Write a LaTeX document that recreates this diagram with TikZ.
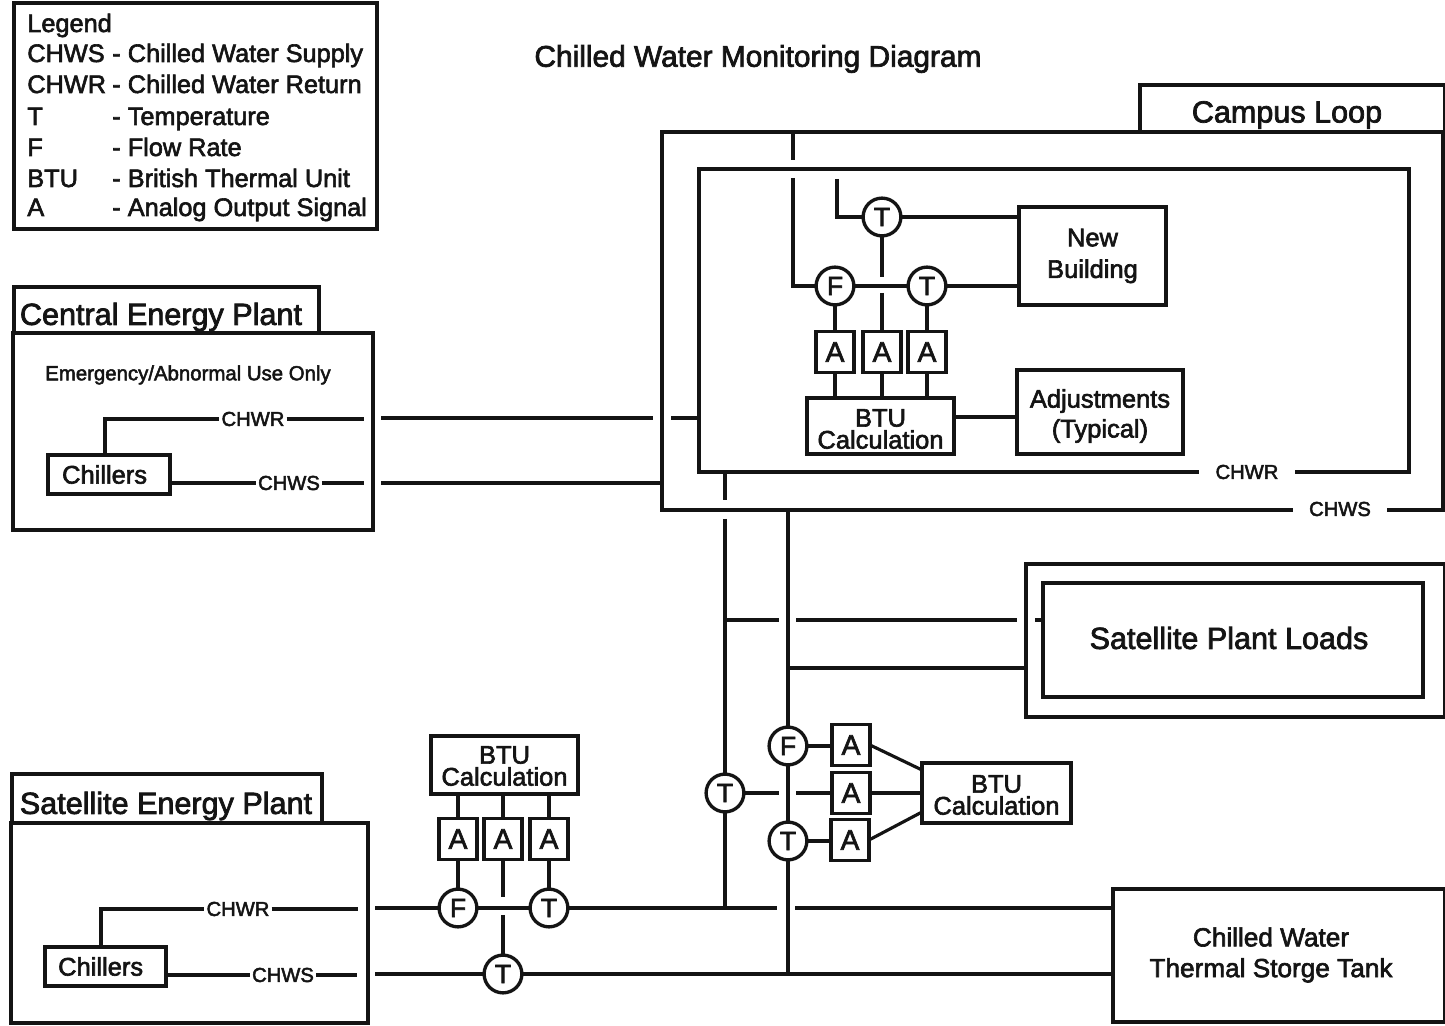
\documentclass[tikz,border=0pt]{standalone}
\usepackage{fontspec}
\setmainfont{Liberation Sans}[FakeBold=2.4]
\usetikzlibrary{positioning}
\tikzset{
  wire/.style     = {line width=1.8pt, draw=inkblack},
  box/.style      = {rectangle, draw=inkblack, line width=1.9pt, inner sep=0pt, outer sep=0pt,
                     align=center, text=inkblack},
  boxwh/.style 2 args = {minimum width=#1*0.02cm, minimum height=#2*0.02cm},
  sensor/.style   = {circle, draw=inkblack, line width=1.9pt, fill=white, inner sep=0pt, outer sep=0pt,
                     minimum size=21.5pt, font=\fontsize{15}{15}\selectfont, text=inkblack},
  analog/.style   = {box, boxwh={38}{41}, fill=white, font=\fontsize{16}{16}\selectfont},
  btutext/.style  = {inner sep=0pt, text=inkblack, align=center, font=\fontsize{14.5}{12.5}\selectfont},
  bigtext/.style  = {font=\fontsize{17.4}{18}\selectfont},
  midtext/.style  = {font=\fontsize{14.5}{18}\selectfont},
  linelabel/.style= {inner xsep=1pt, inner ysep=1pt, fill=white, text=inkblack,
                     font=\fontsize{11.5}{12}\selectfont},
  legendtext/.style={anchor=base west, inner sep=0pt, text=inkblack, font=\fontsize{14.4}{16}\selectfont},
}
\definecolor{inkblack}{HTML}{141414}

\begin{document}
\begin{tikzpicture}[x=0.02cm,y=-0.02cm]
  \useasboundingbox (0,0) rectangle (1445,1026);

  % legend
  \node[box, boxwh={363}{226}] (legend) at (195.5,116) {};
  \node[legendtext] (legendTitle) at (27,32) {Legend};
  \foreach \row/\ypos/\abbr/\full in {1/62/CHWS/Chilled Water Supply, 2/93/CHWR/Chilled Water Return,
      3/125/T/Temperature, 4/156/F/Flow Rate, 5/187/BTU/British Thermal Unit, 6/216/A/Analog Output Signal}{
    \node[legendtext] (key\row) at (27,\ypos) {\abbr};
    \node[legendtext] (val\row) at (112,\ypos) {- \full};
  }
  \node[inner sep=0pt, text=inkblack, font=\fontsize{17}{18}\selectfont] (title) at (758,59) {Chilled Water Monitoring Diagram};

  % central energy plant
  \node[box, boxwh={305}{46}, bigtext] (cpTab) at (166.5,310) {};
  \node[inner sep=0pt, text=inkblack, bigtext] (cpName) at (161,317) {Central Energy Plant};
  \node[box, boxwh={360}{197}] (cp) at (193,431.5) {};
  \node[inner sep=0pt, text=inkblack, font=\fontsize{11.6}{14}\selectfont] (cpNote) at (188,375) {Emergency/Abnormal Use Only};
  \node[box, boxwh={122}{39}, midtext] (cpChillers) at (109,474.5) {Chillers\hspace{5pt}};
  \node[linelabel] (cpChwr) at (253,419) {CHWR};
  \node[linelabel] (cpChws) at (289,483) {CHWS};
  \coordinate (cpRiser) at (105,455);
  \coordinate (cpRout) at (364,419);
  \coordinate (cpSout) at (364,483);
  \coordinate (mainRin) at (381,418);
  \coordinate (mainSin) at (381,483);

  % campus loop
  \node[box, boxwh={305}{47}] (campusTab) at (1292.5,108.5) {};
  \node[inner sep=0pt, text=inkblack, bigtext] (campusName) at (1287,115) {Campus Loop};
  \node[box, boxwh={781}{378}] (campus) at (1052.5,321) {};
  \node[box, boxwh={710}{303}] (loop) at (1054,320.5) {};
  \node[linelabel, inner xsep=9.5pt] (loopChwr) at (1247,472) {CHWR};
  \node[linelabel, inner xsep=9pt] (campusChws) at (1340,509) {CHWS};
  \coordinate (mainRend) at (653,418);
  \coordinate (loopRin) at (671,418);
  \coordinate (crossTop) at (793,132);
  \coordinate (crossGapA) at (793,160);
  \coordinate (crossGapB) at (793,178);
  \coordinate (returnTop) at (837,179);

  \node[box, boxwh={147}{98}, midtext] (building) at (1092.5,256) {New\\[0pt]Building};
  \node[sensor] (bldTtop) at (882,217) {T};
  \node[sensor] (bldF) at (835,286) {F};
  \node[sensor] (bldT) at (927,286) {T};
  \node[analog] (bldAf) at (835,352) {A};
  \node[analog] (bldAm) at (882,352) {A};
  \node[analog] (bldAt) at (927,352) {A};
  \node[box, boxwh={147}{56}] (bldBtu) at (880.5,426) {};
  \node[btutext] (bldBtuText) at (880.5,429) {BTU\\Calculation};
  \node[box, boxwh={166}{84}] (adjust) at (1100,412) {};
  \node[inner sep=0pt, text=inkblack, align=center, midtext] (adjustText) at (1100,416) {Adjustments\\[-1pt](Typical)};
  \coordinate (bldGapA) at (882,277);
  \coordinate (bldGapB) at (882,293);
  \coordinate (adjustFeed) at (954,417);

  \draw[wire] (crossTop) -- (crossGapA);
  \draw[wire] (crossGapB) |- (bldF.west);
  \draw[wire] (returnTop) |- (bldTtop.west);
  \draw[wire] (bldTtop.east) -- (bldTtop.east -| building.west);
  \draw[wire] (bldF.east) -- (bldT.west);
  \draw[wire] (bldT.east) -- (bldT.east -| building.west);
  \draw[wire] (bldTtop.south) -- (bldGapA);
  \draw[wire] (bldGapB) -- (bldAm.north);
  \draw[wire] (bldF.south) -- (bldAf.north);
  \draw[wire] (bldT.south) -- (bldAt.north);
  \foreach \a in {bldAf,bldAm,bldAt}{
    \draw[wire] (\a.south) -- (\a.south |- bldBtu.north);
  }
  \draw[wire] (adjustFeed) -- (adjustFeed -| adjust.west);

  % mains from central plant
  \draw[wire] (cpRiser) |- (cpChwr.west);
  \draw[wire] (cpChwr.east) -- (cpRout);
  \draw[wire] (cpChillers.east |- cpChws.west) -- (cpChws.west);
  \draw[wire] (cpChws.east) -- (cpSout);
  \draw[wire] (mainRin) -- (mainRend);
  \draw[wire] (loopRin) -- (loopRin -| loop.west);
  \draw[wire] (mainSin) -- (mainSin -| campus.west);

  % satellite plant loads
  \node[box, boxwh={419}{153}] (loadsOut) at (1235.5,640.5) {};
  \node[box, boxwh={380}{114}, bigtext] (loads) at (1233,640) {};
  \node[inner sep=0pt, text=inkblack, bigtext] (loadsName) at (1229,638) {Satellite Plant Loads};

  % risers
  \coordinate (riserRgapA) at (725,500);
  \coordinate (riserRgapB) at (725,519);
  \coordinate (loopBottom) at (725,472);
  \coordinate (riserS) at (788,510);
  \coordinate (loadRa) at (725,620);
  \coordinate (loadRb) at (779,620);
  \coordinate (loadRc) at (796,620);
  \coordinate (loadRd) at (1017,620);
  \coordinate (loadRe) at (1035,620);
  \coordinate (loadRf) at (1043,620);
  \coordinate (loadSa) at (788,668);

  \node[sensor] (riseT) at (725,793) {T};
  \node[sensor] (riseF) at (788,746) {F};
  \node[sensor] (riseTb) at (788,841) {T};
  \node[analog] (riseAa) at (851,745) {A};
  \node[analog] (riseAb) at (851,793) {A};
  \node[analog] (riseAc) at (850,840) {A};
  \node[box, boxwh={149}{60}] (riseBtu) at (996.5,793) {};
  \node[btutext] (riseBtuText) at (996.5,795) {BTU\\Calculation};
  \coordinate (riseGapA) at (779,793);
  \coordinate (riseGapB) at (796,793);

  \draw[wire] (loopBottom) -- (riserRgapA);
  \draw[wire] (riserRgapB) -- (riseT.north);
  \draw[wire] (riserS) -- (riseF.north);
  \draw[wire] (riseF.south) -- (riseTb.north);
  \draw[wire] (loadRa) -- (loadRb);
  \draw[wire] (loadRc) -- (loadRd);
  \draw[wire] (loadRe) -- (loadRf);
  \draw[wire] (loadSa) -- (loadSa -| loadsOut.west);
  \draw[wire] (riseF.east) -- (riseAa.west |- riseF.east);
  \draw[wire] (riseT.east) -- (riseGapA);
  \draw[wire] (riseGapB) -- (riseAb.west);
  \draw[wire] (riseTb.east) -- (riseAc.west |- riseTb.east);
  \draw[wire] (riseAa.east) -- (riseBtu.west |- 0,770);
  \draw[wire] (riseAb.east) -- (riseBtu.west);
  \draw[wire] (riseAc.east) -- (riseBtu.west |- 0,812);

  % satellite energy plant
  \node[box, boxwh={310}{49}] (spTab) at (167,798.5) {};
  \node[inner sep=0pt, text=inkblack, bigtext] (spName) at (166,806) {Satellite Energy Plant};
  \node[box, boxwh={357}{200}] (sp) at (189.5,923) {};
  \node[box, boxwh={121}{39}, midtext] (spChillers) at (105.5,966.5) {Chillers\hspace{5.5pt}};
  \node[linelabel] (spChwr) at (238,909) {CHWR};
  \node[linelabel] (spChws) at (283,975) {CHWS};
  \coordinate (spRiser) at (101,947);
  \coordinate (spRout) at (358,909);
  \coordinate (spSout) at (357,975);
  \coordinate (satRin) at (375,908);
  \coordinate (satSin) at (375,974);

  \node[box, boxwh={147}{58}] (spBtu) at (504.5,765) {};
  \node[btutext] (spBtuText) at (504.5,766) {BTU\\Calculation};
  \node[analog] (spAf) at (458,839) {A};
  \node[analog] (spAm) at (503,839) {A};
  \node[analog] (spAt) at (549,839) {A};
  \node[sensor] (spF) at (458,908) {F};
  \node[sensor] (spT) at (549,908) {T};
  \node[sensor] (spTs) at (503,974) {T};
  \coordinate (spGapA) at (503,897);
  \coordinate (spGapB) at (503,915);
  \coordinate (mainGapA) at (777,908);
  \coordinate (mainGapB) at (795,908);
  \coordinate (riserRbase) at (725,908);
  \coordinate (riserSbase) at (788,974);

  \node[box, boxwh={332}{133}] (tank) at (1279,955.5) {};
  \node[inner sep=0pt, text=inkblack, align=center, font=\fontsize{14.9}{18}\selectfont] (tankName) at (1271,955) {Chilled Water\\[-0.5pt]Thermal Storge Tank};

  \draw[wire] (spRiser) |- (spChwr.west);
  \draw[wire] (spChwr.east) -- (spRout);
  \draw[wire] (spChillers.east |- spChws.west) -- (spChws.west);
  \draw[wire] (spChws.east) -- (spSout);
  \draw[wire] (satRin) -- (spF.west);
  \draw[wire] (spF.east) -- (spT.west);
  \draw[wire] (spT.east) -- (mainGapA);
  \draw[wire] (mainGapB) -- (mainGapB -| tank.west);
  \draw[wire] (satSin) -- (spTs.west);
  \draw[wire] (spTs.east) -- (spTs.east -| tank.west);
  \draw[wire] (spAm.south) -- (spGapA);
  \draw[wire] (spGapB) -- (spTs.north);
  \draw[wire] (spF.north) -- (spAf.south);
  \draw[wire] (spT.north) -- (spAt.south);
  \foreach \a in {spAf,spAm,spAt}{
    \draw[wire] (\a.north) -- (\a.north |- spBtu.south);
  }
  \draw[wire] (riseT.south) -- (riserRbase);
  \draw[wire] (riseTb.south) -- (riserSbase);
\end{tikzpicture}
\end{document}
